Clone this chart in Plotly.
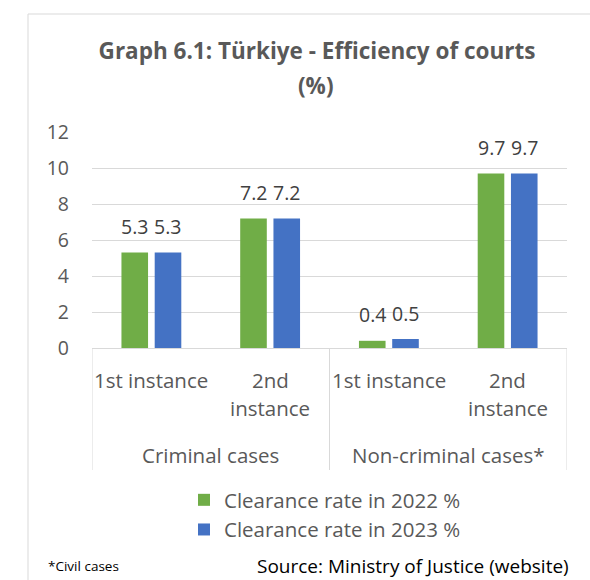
import plotly.graph_objects as go

# ---- data ----
groups = ["Criminal cases", "Criminal cases", "Non-criminal cases*", "Non-criminal cases*"]
subcats = ["1st instance", "2nd<br>instance", "1st instance", "2nd<br>instance"]
series_names = ["Clearance rate in 2022 %", "Clearance rate in 2023 %"]
values_2022 = [5.3, 7.2, 0.4, 9.7]
values_2023 = [5.3, 7.2, 0.5, 9.7]
y_ticks = [0, 2, 4, 6, 8, 10, 12]

# ---- layout constants (pixels) ----
W, H = 590, 580
PL, PR, PT, PB = 92, 567, 132, 348
PW, PH = PR - PL, PB - PT

def px_x(px):
    return (px - PL) / PW

def px_y(py):
    return (PB - py) / PH

FONT = "Open Sans"
GRAY = "#595959"
DARK = "#404040"
GRID = "#d9d9d9"
GREEN = "#70AD47"
BLUE = "#4472C4"

xs = list(range(len(subcats)))

fig = go.Figure()
fig.add_trace(go.Bar(x=xs, y=values_2022, name=series_names[0], marker_color=GREEN,
                     marker_line_width=0))
fig.add_trace(go.Bar(x=xs, y=values_2023, name=series_names[1], marker_color=BLUE,
                     marker_line_width=0))

annotations = []
# data labels
bar_shift = 16.6
for vals, sh in ((values_2022, -bar_shift), (values_2023, bar_shift)):
    for i, v in enumerate(vals):
        annotations.append(dict(x=i, y=v, xref="x", yref="y", text=f"{v:.1f}",
                                showarrow=False, xshift=sh, yshift=26, yanchor="middle",
                                font=dict(family=FONT, size=19.5, color=DARK)))

# category labels (split lines, custom line spacing)
for i, lab in enumerate(subcats):
    for j, line in enumerate(lab.split("<br>")):
        annotations.append(dict(x=i, y=px_y(380 + 28 * j), xref="x", yref="paper",
                                text=line, showarrow=False, yanchor="middle",
                                font=dict(family=FONT, size=20.5, color=GRAY)))

# group labels
seen = []
for g in groups:
    if g not in seen:
        seen.append(g)
for g in seen:
    idx = [i for i, gg in enumerate(groups) if gg == g]
    annotations.append(dict(x=sum(idx) / len(idx), y=px_y(455), xref="x", yref="paper",
                            text=g, showarrow=False, yanchor="middle",
                            font=dict(family=FONT, size=20.5, color=GRAY)))

# title second line
annotations.append(dict(x=px_x(316), y=px_y(86), xref="paper", yref="paper",
                        text="<b>(%)</b>", showarrow=False, yanchor="middle",
                        font=dict(family=FONT, size=22.5, color=GRAY)))

# footer
annotations.append(dict(x=px_x(46), y=px_y(566), xref="paper", yref="paper",
                        text="*Civil cases", showarrow=False, xanchor="left", yanchor="middle",
                        font=dict(family=FONT, size=13.5, color="#000000")))
annotations.append(dict(x=px_x(571), y=px_y(566), xref="paper", yref="paper",
                        text="Source: Ministry of Justice (website)", showarrow=False,
                        xanchor="right", yanchor="middle",
                        font=dict(family=FONT, size=19, color="#000000")))

shapes = []
# category dividers at group boundaries
bounds = [-0.5]
for i in range(1, len(groups)):
    if groups[i] != groups[i - 1]:
        bounds.append(i - 0.5)
bounds.append(len(groups) - 0.5)
for b in bounds:
    shapes.append(dict(type="line", xref="x", yref="paper", x0=b, x1=b, y0=0, y1=px_y(470),
                       line=dict(color=GRID, width=1)))
# chart frame (left and top)
shapes.append(dict(type="line", xref="paper", yref="paper", x0=px_x(28), x1=px_x(28),
                   y0=px_y(14), y1=px_y(582), line=dict(color=GRID, width=1)))
shapes.append(dict(type="line", xref="paper", yref="paper", x0=px_x(28), x1=px_x(592),
                   y0=px_y(14), y1=px_y(14), line=dict(color=GRID, width=1)))

fig.update_layout(
    width=W, height=H,
    margin=dict(l=PL, r=W - PR, t=PT, b=H - PB, pad=0),
    paper_bgcolor="white", plot_bgcolor="white",
    barmode="group", bargap=0.44, bargroupgap=0.2,
    title=dict(text="<b>Graph 6.1: Türkiye - Efficiency of courts</b>",
               x=317 / W, xanchor="center", xref="container",
               y=1 - 51 / H, yanchor="middle", yref="container",
               font=dict(family=FONT, size=22.5, color=GRAY)),
    xaxis=dict(range=[-0.5, len(xs) - 0.5], showticklabels=False, showgrid=False,
               zeroline=False, showline=True, linecolor=GRID, linewidth=1, ticks=""),
    yaxis=dict(range=[0, 12], tickvals=y_ticks, showgrid=True, gridcolor=GRID, gridwidth=1,
               zeroline=False, showline=False, ticks="", ticklabelstandoff=22,
               tickfont=dict(family=FONT, size=19.5, color=GRAY)),
    legend=dict(orientation="v", x=px_x(184), xanchor="left", y=px_y(480), yanchor="top",
                font=dict(family=FONT, size=20.5, color=GRAY), bgcolor="rgba(0,0,0,0)",
                traceorder="normal"),
    showlegend=True,
    annotations=annotations,
    shapes=shapes,
)

fig.write_html("out.html", config={"displayModeBar": False},
               post_script="document.body.style.margin='0px';document.body.style.overflow='hidden';")
